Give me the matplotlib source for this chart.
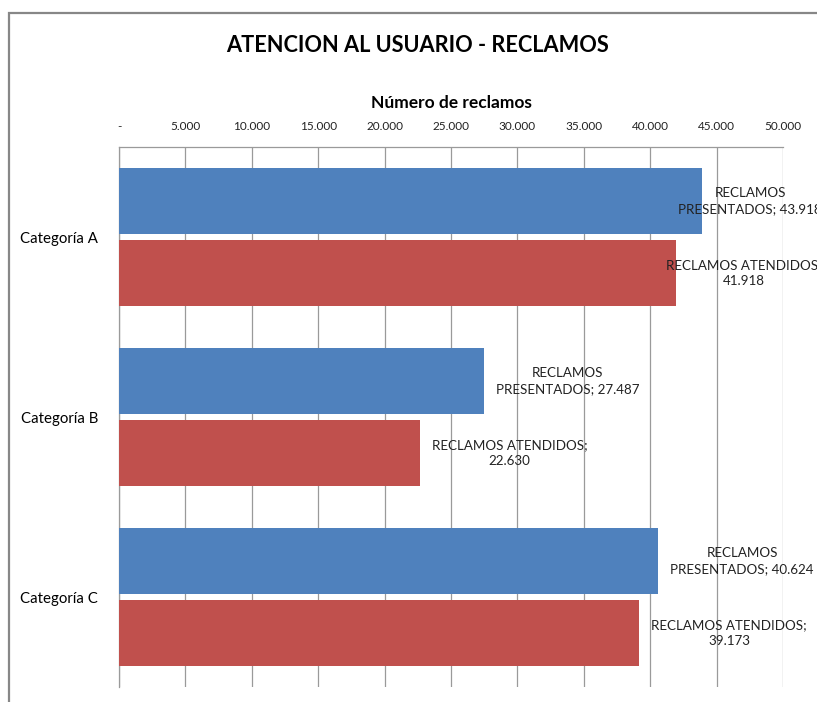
import matplotlib
matplotlib.use('Agg')
from matplotlib import pyplot as plt
from matplotlib.ticker import FuncFormatter, MultipleLocator
from matplotlib.patches import Rectangle
import numpy as np

categorias = ['Categoría A', 'Categoría B', 'Categoría C']
series = ['RECLAMOS PRESENTADOS', 'RECLAMOS ATENDIDOS']
presentados = [43918, 27487, 40624]
atendidos = [41918, 22630, 39173]

titulo = 'ATENCION AL USUARIO - RECLAMOS'
eje_x = 'Número de reclamos'

plt.rcParams['font.family'] = ['Lato', 'DejaVu Sans']

def miles(v, pos=None):
	if v == 0:
		return '-'
	return '{:,.0f}'.format(v).replace(',', '.')

def etiqueta(nombre, v):
	# Excel wraps the labels differently for each series
	palabras = nombre.split(' ')
	if nombre == series[0]:
		return palabras[0] + '\n' + ' '.join(palabras[1:]) + '; ' + miles(v)
	return nombre + ';\n' + miles(v)

W, H = 817, 702
fig = plt.figure(figsize=(W / 100, H / 100), dpi=100)
ax = fig.add_axes([119 / W, 1 - 687 / H, (783 - 119) / W, (687 - 147) / H])

# chart area border (cropped at right and bottom)
fig.patches.append(Rectangle((9 / W, -0.1), 1.2, 1 - 12.5 / H + 0.1, transform=fig.transFigure,
	fill=False, edgecolor='#878787', linewidth=1.6))

y = np.arange(len(categorias))
alto = 0.37
colores = ['#4F81BD', '#C0504D']
bars1 = ax.barh(y - 0.2, presentados, height=alto, color=colores[0], zorder=3)
bars2 = ax.barh(y + 0.2, atendidos, height=alto, color=colores[1], zorder=3)

ax.set_xlim(0, 50000)
ax.set_ylim(2.5, -0.5)
ax.xaxis.set_major_locator(MultipleLocator(5000))
ax.xaxis.set_major_formatter(FuncFormatter(miles))
ax.xaxis.tick_top()
ax.tick_params(axis='x', length=0, pad=11, labelsize=8.5, labelcolor='#222222')
ax.set_yticks(y)
ax.set_yticklabels(categorias, fontsize=10.8)
ax.tick_params(axis='y', length=0, pad=15)
ax.grid(axis='x', color='#9a9a9a', linewidth=0.9, zorder=0)
for s in ['bottom', 'right']:
	ax.spines[s].set_visible(False)
for s in ['top', 'left']:
	ax.spines[s].set_color('#9a9a9a')
	ax.spines[s].set_linewidth(0.9)

fig.text(418 / W, 1 - 46 / H, titulo, ha='center', va='center', fontsize=15.7, fontweight='bold')
fig.text(451 / W, 1 - 103 / H, eje_x, ha='center', va='center', fontsize=12.5, fontweight='bold')

textos = []
for nombre, valores, yy in [(series[0], presentados, y - 0.2), (series[1], atendidos, y + 0.2)]:
	for v, yi in zip(valores, yy):
		t = ax.annotate(etiqueta(nombre, v), xy=(v, yi), xytext=(12, 0), textcoords='offset pixels',
			ha='left', va='center', multialignment='center', fontsize=9.6, color='#222222',
			linespacing=1.35, zorder=5, annotation_clip=False)
		textos.append(t)

# keep labels inside the (wider) chart area like Excel does
fig.canvas.draw()
r = fig.canvas.get_renderer()
for t in textos:
	bb = t.get_window_extent(r)
	if bb.x1 > 822:
		t.xyann = (12 - (bb.x1 - 822), 0)

fig.savefig('out.png', dpi=100)
plt.close()
